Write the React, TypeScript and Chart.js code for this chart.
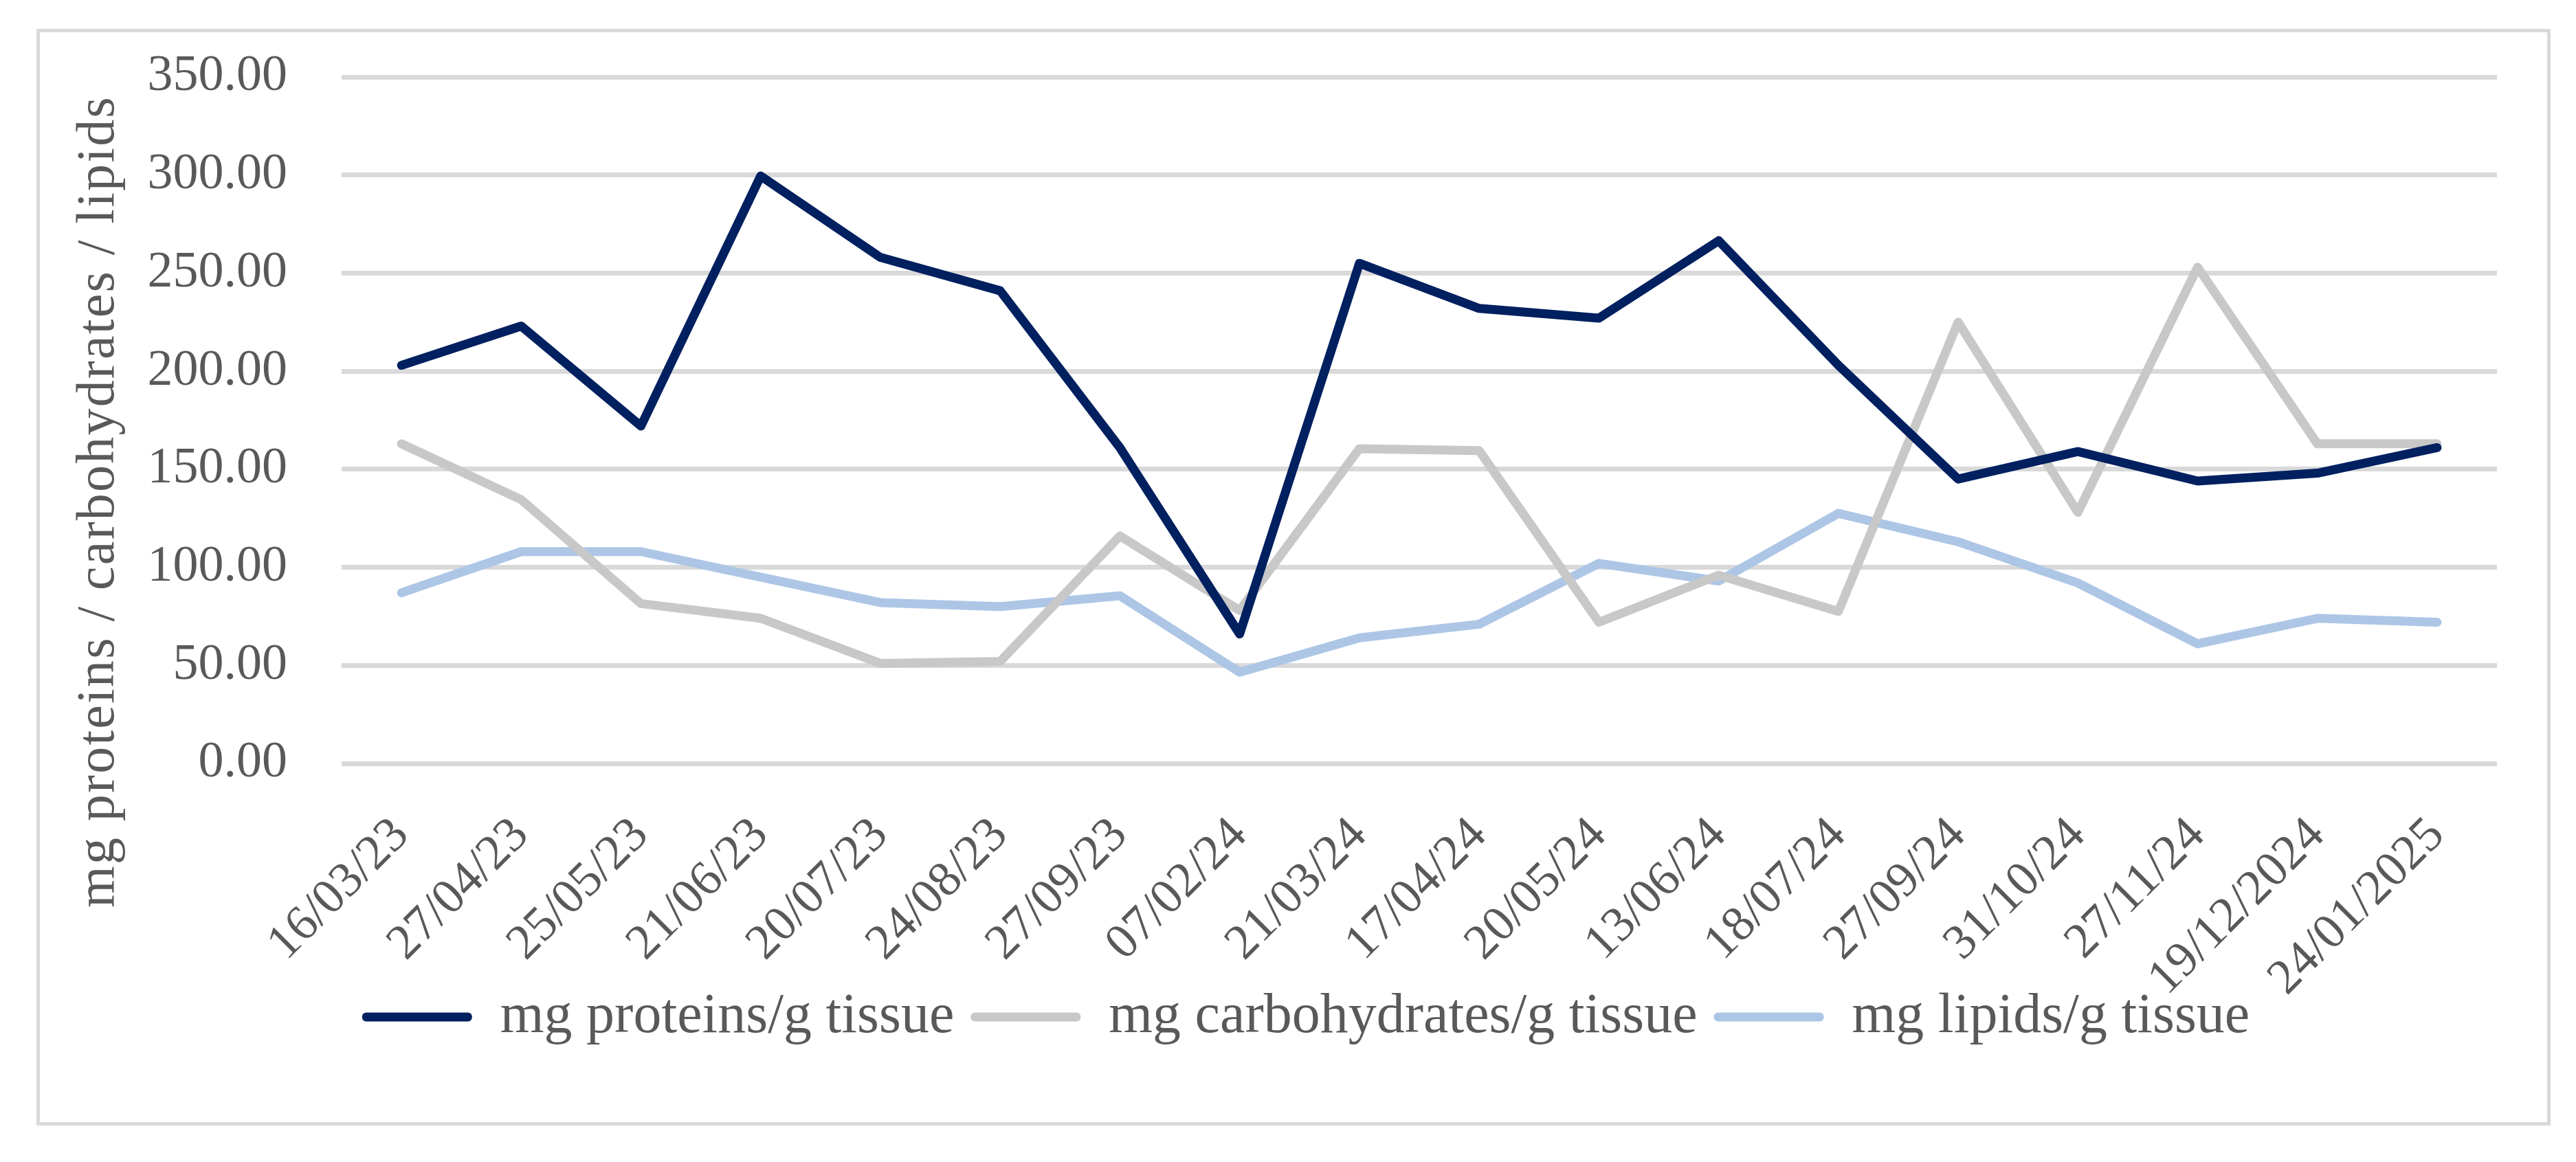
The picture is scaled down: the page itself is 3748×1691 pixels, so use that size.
import React, { useEffect, useRef } from "react";
import { Chart, registerables } from "chart.js";

Chart.register(...registerables);

const categories = [
  "16/03/23", "27/04/23", "25/05/23", "21/06/23", "20/07/23", "24/08/23",
  "27/09/23", "07/02/24", "21/03/24", "17/04/24", "20/05/24", "13/06/24",
  "18/07/24", "27/09/24", "31/10/24", "27/11/24", "19/12/2024", "24/01/2025",
];
const proteins = [203, 223, 172, 299.5, 258, 241, 161, 66, 255, 232, 227, 266.5, 203, 145, 159, 144, 148, 161];
const carbohydrates = [163, 134.5, 81.5, 74, 51, 52, 116, 78, 160.5, 159.5, 72, 96, 77.5, 225, 128, 253, 163, 163];
const lipids = [87, 108, 108, 95, 82, 80, 85.5, 46.5, 64, 71, 102, 93, 127.5, 113, 92, 61, 74, 72];
const seriesLabels = ["mg proteins/g tissue", "mg carbohydrates/g tissue", "mg lipids/g tissue"];
const yTitle = "mg proteins / carbohydrates / lipids";
const yMin = 0;
const yMax = 350;
const yStep = 50;

const FONT = "'Liberation Serif', 'Times New Roman', serif";
const TEXT = "#595959";

const yTitlePlugin = {
  id: "yTitlePlugin",
  afterDraw(chart: any) {
    const ctx = chart.ctx;
    ctx.save();
    ctx.font = `78px ${FONT}`;
    ctx.fillStyle = TEXT;
    try { (ctx as any).letterSpacing = "2.2px"; } catch (e) {}
    ctx.textAlign = "center";
    ctx.textBaseline = "alphabetic";
    ctx.translate(107, 683);
    ctx.rotate(-Math.PI / 2);
    ctx.fillText(yTitle, 0, 0);
    ctx.restore();
  },
};

export default function App() {
  const ref = useRef<HTMLCanvasElement | null>(null);
  useEffect(() => {
    if (!ref.current) return;
    const chart = new Chart(ref.current, {
      type: "line",
      data: {
        labels: categories,
        datasets: [
          { label: seriesLabels[0], data: proteins, borderColor: "#002060", backgroundColor: "#002060", borderWidth: 13 },
          { label: seriesLabels[1], data: carbohydrates, borderColor: "#c8c8c8", backgroundColor: "#c8c8c8", borderWidth: 13 },
          { label: seriesLabels[2], data: lipids, borderColor: "#adc6e6", backgroundColor: "#adc6e6", borderWidth: 13 },
        ].map((d) => ({
          ...d,
          pointRadius: 0,
          pointHoverRadius: 0,
          tension: 0,
          fill: false,
          borderCapStyle: "round" as const,
          borderJoinStyle: "round" as const,
        })),
      },
      options: {
        animation: false,
        responsive: true,
        maintainAspectRatio: false,
        devicePixelRatio: 1,
        layout: { padding: { left: 109, right: 73, top: 65, bottom: 102 } },
        plugins: {
          tooltip: { enabled: false },
          legend: {
            position: "bottom",
            labels: {
              boxWidth: 160,
              boxHeight: 13,
              padding: 24,
              color: TEXT,
              font: { family: FONT, size: 82 },
              useBorderRadius: true,
              borderRadius: 6,
              generateLabels: (c: any) =>
                c.data.datasets.map((ds: any, i: number) => ({
                  text: ds.label,
                  fillStyle: ds.borderColor,
                  strokeStyle: ds.borderColor,
                  lineWidth: 0,
                  hidden: false,
                  datasetIndex: i,
                  fontColor: TEXT,
                  borderRadius: 6,
                })),
            },
          },
        },
        scales: {
          x: {
            offset: true,
            grid: { display: false, drawTicks: false },
            border: { display: false },
            ticks: {
              autoSkip: false,
              maxRotation: 45,
              minRotation: 45,
              padding: 63,
              color: TEXT,
              font: { family: FONT, size: 72 },
            },
            afterFit: (s: any) => {
              s.height = 304;
              s._computeLabelArea = () => undefined;
            },
          },
          y: {
            min: yMin,
            max: yMax,
            grid: { color: "#d9d9d9", lineWidth: 7, drawTicks: false },
            border: { display: false },
            ticks: {
              stepSize: yStep,
              padding: 79,
              color: TEXT,
              font: { family: FONT, size: 74 },
              callback: (v: any) => Number(v).toFixed(2),
            },
            afterFit: (s: any) => {
              s.width = 330;
              s.paddingTop = 0;
              s.paddingBottom = 0;
            },
          },
        },
      },
      plugins: [yTitlePlugin],
    });
    return () => chart.destroy();
  }, []);

  return (
    <div
      style={{
        position: "absolute",
        left: 53,
        top: 42,
        width: 3658,
        height: 1596,
        boxSizing: "border-box",
        border: "5px solid #d9d9d9",
        background: "#fff",
      }}
    >
      <canvas ref={ref} style={{ width: "100%", height: "100%", display: "block" }} />
    </div>
  );
}
